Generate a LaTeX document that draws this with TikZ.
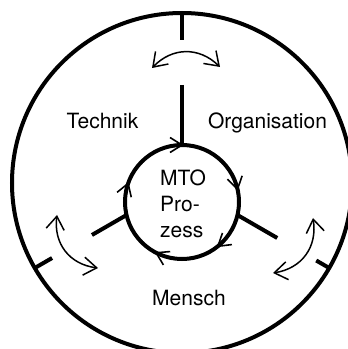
\documentclass[tikz,border=0pt]{standalone}
\usepackage{fontspec}
\setmainfont{TeX Gyre Heros}
\usetikzlibrary{arrows.meta,calc}
\tikzset{
  ring/.style={line width=4pt},
  spoke/.style={line width=4pt},
  swap arrow/.style={line width=1.5pt,{Straight Barb[length=13pt,width=18pt]}-{Straight Barb[length=13pt,width=18pt]}},
  flowbarb/.style={line width=1.6pt},
  lbl/.style={font=\fontsize{21}{24}\selectfont,inner sep=0pt,anchor=base}
}
\begin{document}
\begin{tikzpicture}[x=1pt,y=1pt]
\useasboundingbox (0,0) rectangle (348,349);
\clip (0,0) rectangle (348,349);
\coordinate (O) at (182,166);
\coordinate (C) at (182,147);
% spokes
\foreach \a/\ro/\ri in {90/143/98, 210/150/104, 330/155/110}{
  \draw[spoke] ($(O)+(\a:170)$) -- ($(O)+(\a:\ro)$);
}
\draw[spoke] ($(O)+(90:98)$) -- ($(O)+(90:38)$);
\draw[spoke] ($(O)+(210:104)$) -- ($(O)+(210:64)$);
\draw[spoke] ($(O)+(330:110)$) -- ($(O)+(330:64)$);
% circles
\draw[ring] (O) circle (170pt);
\draw[ring] (C) circle (57pt);
% flow arrowheads on inner circle (clockwise)
\foreach \a in {90,13,-51,-117,161}{
  \begin{scope}[shift={(C)},rotate=\a]
    \draw[flowbarb] (57+7.5,12) -- (57,0) -- (57-7.5,12);
  \end{scope}
}
% double arrows
\coordinate (t1) at (152,281); \coordinate (t2) at (220,282);
\coordinate (l1) at (98,81);   \coordinate (l2) at (57,134);
\coordinate (r1) at (313,131); \coordinate (r2) at (273,76);
\draw[swap arrow] (t1) to[bend left=45,looseness=1.1] (t2);
\draw[swap arrow] (l1) to[bend left=45,looseness=1.1] (l2);
\draw[swap arrow] (r1) to[bend left=45,looseness=1.1] (r2);
% labels
\node[lbl] (tech) at (102.5,220) {Technik};
\node[lbl] (org) at (267.5,220) {Organisation};
\node[lbl] (men) at (189,44) {Mensch};
\node[lbl,anchor=base west] (m1) at (160,164) {MTO};
\node[lbl,anchor=base west] (m2) at (160,137.3) {Pro-};
\node[lbl,anchor=base west] (m3) at (160,111) {zess};
\end{tikzpicture}
\end{document}
